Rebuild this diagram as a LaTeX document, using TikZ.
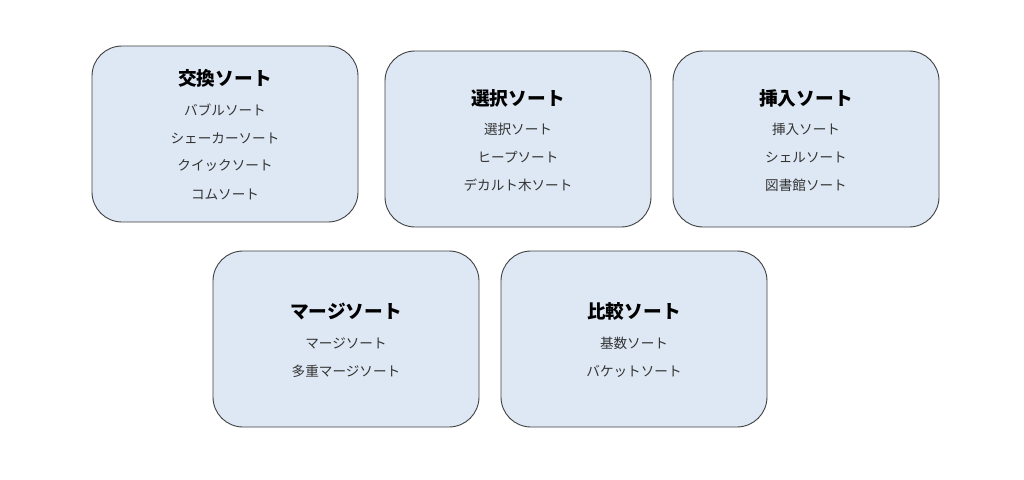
\documentclass[tikz,border=0pt]{standalone}
\usepackage{fontspec}
\newfontfamily\jp{Noto Sans CJK JP}
\definecolor{boxfill}{HTML}{DEE8F4}
\definecolor{boxline}{HTML}{404040}
\definecolor{bodytext}{HTML}{333333}
\tikzset{
  sortbox/.style={draw=boxline, fill=boxfill, line width=0.9pt, rounded corners=30pt,
    minimum width=266pt, minimum height=176pt, inner sep=0pt},
  titletext/.style={font=\jp\fontsize{18.7}{22}\selectfont\bfseries, text=black, inner sep=0pt},
  itemtext/.style={font=\jp\fontsize{13.6}{17}\selectfont, text=bodytext, inner sep=0pt},
}
\begin{document}
\begin{tikzpicture}[x=1pt,y=-1pt]
\useasboundingbox (0,0) rectangle (1024,479);
\fill[white] (0,0) rectangle (1024,479);
% box 1
\node[sortbox] (b1) at (225,134) {};
\node[titletext] (t1) at (225,78) {交換ソート};
\node[itemtext] (i11) at (225,110) {バブルソート};
\node[itemtext] (i12) at (225,138) {シェーカーソート};
\node[itemtext] (i13) at (225,166) {クイックソート};
\node[itemtext] (i14) at (225,194) {コムソート};
% box 2
\node[sortbox] (b2) at (518,139) {};
\node[titletext] (t2) at (518,98) {選択ソート};
\node[itemtext] (i21) at (518,129) {選択ソート};
\node[itemtext] (i22) at (518,157) {ヒープソート};
\node[itemtext] (i23) at (518,185) {デカルト木ソート};
% box 3
\node[sortbox] (b3) at (806,139) {};
\node[titletext] (t3) at (806,98) {挿入ソート};
\node[itemtext] (i31) at (806,129) {挿入ソート};
\node[itemtext] (i32) at (806,157) {シェルソート};
\node[itemtext] (i33) at (806,185) {図書館ソート};
% box 4
\node[sortbox] (b4) at (346,339) {};
\node[titletext] (t4) at (346,311) {マージソート};
\node[itemtext] (i41) at (346,343) {マージソート};
\node[itemtext] (i42) at (346,371) {多重マージソート};
% box 5
\node[sortbox] (b5) at (634,339) {};
\node[titletext] (t5) at (634,311) {比較ソート};
\node[itemtext] (i51) at (634,343) {基数ソート};
\node[itemtext] (i52) at (634,371) {バケットソート};
\end{tikzpicture}
\end{document}
